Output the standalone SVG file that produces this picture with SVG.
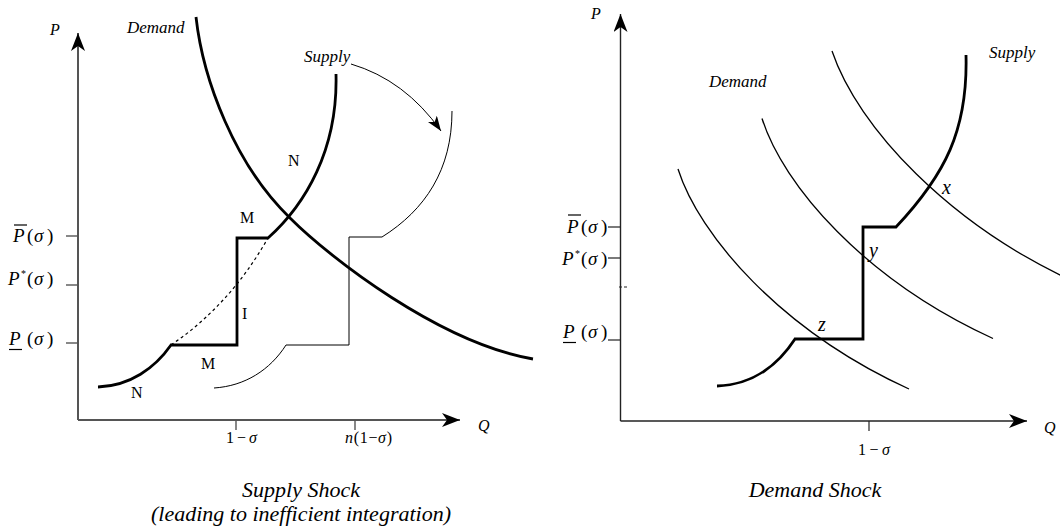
<svg xmlns="http://www.w3.org/2000/svg" width="1060" height="531" viewBox="0 0 1060 531">
<style>
.t{font-family:"Liberation Serif","DejaVu Serif",serif;fill:#000}
.i{font-style:italic}
.s16{font-size:16px}.s17{font-size:17px}.s19{font-size:19px}.s20{font-size:20px}.s22{font-size:22px}
.thick{fill:none;stroke:#000;stroke-width:2.8;stroke-linejoin:miter}
.thin{fill:none;stroke:#000;stroke-width:1.3}
.hair{fill:none;stroke:#000;stroke-width:1}
.dash{fill:none;stroke:#000;stroke-width:1.2;stroke-dasharray:3 3}
.axL{fill:none;stroke:#555;stroke-width:2}
.axR{fill:none;stroke:#222;stroke-width:1.4}
.tkL{stroke:#555;stroke-width:1.4}
.tkR{stroke:#222;stroke-width:1.2}
</style>
<defs>
<marker id="ah" viewBox="0 0 18 14" refX="18" refY="7" markerWidth="18" markerHeight="14" markerUnits="userSpaceOnUse" orient="auto">
<path d="M0,0 L18,7 L0,14 L5,7 Z" fill="#000"/>
</marker>
<marker id="ah2" viewBox="0 0 15 11" refX="15" refY="5.5" markerWidth="15" markerHeight="11" markerUnits="userSpaceOnUse" orient="auto">
<path d="M0,0 L15,5.5 L0,11 L4,5.5 Z" fill="#000"/>
</marker>
</defs>

<!-- LEFT PANEL: Supply Shock -->
<g id="left-axes">
<line class="axL" x1="78" y1="420" x2="78" y2="33" marker-end="url(#ah)"/>
<line class="axL" x1="78" y1="420" x2="460" y2="420" marker-end="url(#ah)"/>
<line class="tkL" x1="66" y1="236" x2="78" y2="236"/>
<line class="tkL" x1="66" y1="285" x2="78" y2="285"/>
<line class="tkL" x1="66" y1="343" x2="78" y2="343"/>
<line class="tkL" x1="236" y1="420" x2="236" y2="430"/>
<line class="tkL" x1="355" y1="420" x2="355" y2="430"/>
</g>
<g id="left-curves">
<path id="left-demand" class="thick" d="M196,17 C203,80 235,165 290,218 C330,258 440,343 533,359"/>
<path id="left-supply" class="thick" d="M336,74 C338,150 305,205 268,238 L237,238 L237,345 L171,345 C155,368 130,386 98,387"/>
<path id="left-dashed" class="dash" d="M171,345 Q230,305 268,238"/>
<path id="left-supply-shifted" class="hair" d="M452,111 C452,170 425,210 382,237 L349,237 L349,345 L286,345 C270,370 245,386 214,388"/>
<path id="shift-arrow" class="hair" d="M351,64 Q405,80 441,131" marker-end="url(#ah2)"/>
</g>
<g id="left-labels" class="t">
<text class="i s16" x="50" y="35">P</text>
<text class="i s17" x="127" y="33">Demand</text>
<text class="i s17" x="304" y="62">Supply</text>
<text class="s16" x="288" y="166">N</text>
<text class="s16" x="240" y="223">M</text>
<text class="s16" x="242" y="319">I</text>
<text class="s16" x="201" y="369">M</text>
<text class="s16" x="131" y="398">N</text>
<text class="i s16" x="478" y="431">Q</text>
<text class="s16" x="226" y="443" textLength="31" lengthAdjust="spacing">1−<tspan class="i">σ</tspan></text>
<text class="s16" x="345" y="443" textLength="47" lengthAdjust="spacing"><tspan class="i">n</tspan>(1−<tspan class="i">σ</tspan>)</text>
<text class="s19" y="242"><tspan class="i" x="13">P</tspan><tspan x="27">(</tspan><tspan class="i" x="34">σ</tspan><tspan x="47">)</tspan></text>
<line x1="14" y1="225" x2="27" y2="225" stroke="#000" stroke-width="1.2"/>
<text class="s19" y="285"><tspan class="i" x="8">P</tspan><tspan x="21" dy="-8" font-size="10">*</tspan><tspan x="27" dy="8">(</tspan><tspan class="i" x="34">σ</tspan><tspan x="47">)</tspan></text>
<text class="s19" y="345"><tspan class="i" x="9">P</tspan><tspan x="27">(</tspan><tspan class="i" x="34">σ</tspan><tspan x="47">)</tspan></text>
<line x1="9" y1="349.5" x2="22" y2="349.5" stroke="#000" stroke-width="1.2"/>
<text class="i s22" x="301" y="497" text-anchor="middle">Supply Shock</text>
<text class="i s22" x="301" y="521" text-anchor="middle">(leading to inefficient integration)</text>
</g>

<!-- RIGHT PANEL: Demand Shock -->
<g id="right-axes">
<line class="axR" x1="620.5" y1="421" x2="620.5" y2="14" marker-end="url(#ah)"/>
<line class="axR" x1="620.5" y1="421" x2="1027" y2="421" marker-end="url(#ah)"/>
<line class="tkR" x1="608" y1="227" x2="620.5" y2="227"/>
<line class="tkR" x1="608" y1="258" x2="620.5" y2="258"/>
<line class="tkR" x1="608" y1="340" x2="620.5" y2="340"/>
<line class="tkR" x1="619" y1="287" x2="629" y2="287" stroke-dasharray="3 2"/>
<line class="tkR" x1="869" y1="421" x2="869" y2="431"/>
</g>
<g id="right-curves">
<path id="demand-outer" class="thin" d="M832,51 C858,128 950,225 1075,282"/>
<path id="demand-middle" class="thin" d="M762,118.5 C783,185 864,279.5 993,338.5"/>
<path id="demand-inner" class="thin" d="M678,169 C699,235 780,330 909,389"/>
<path id="right-supply" class="thick" d="M966,55 C968,130 945,175 896,227 L863,227 L863,339 L795,339 C780,362 755,385 717,386"/>
</g>
<g id="right-labels" class="t">
<text class="i s16" x="591" y="19">P</text>
<text class="i s17" x="709" y="87">Demand</text>
<text class="i s17" x="989" y="58">Supply</text>
<text class="i s20" x="942" y="194">x</text>
<text class="i s20" x="869" y="257">y</text>
<text class="i s20" x="818" y="331">z</text>
<text class="s16" x="858" y="455" textLength="32" lengthAdjust="spacing">1−<tspan class="i">σ</tspan></text>
<text class="i s16" x="1044" y="433">Q</text>
<text class="s19" y="233"><tspan class="i" x="567">P</tspan><tspan x="581">(</tspan><tspan class="i" x="588">σ</tspan><tspan x="601">)</tspan></text>
<line x1="568" y1="215" x2="581" y2="215" stroke="#000" stroke-width="1.2"/>
<text class="s19" y="265"><tspan class="i" x="562">P</tspan><tspan x="575" dy="-8" font-size="10">*</tspan><tspan x="581" dy="8">(</tspan><tspan class="i" x="588">σ</tspan><tspan x="601">)</tspan></text>
<text class="s19" y="338"><tspan class="i" x="563">P</tspan><tspan x="581">(</tspan><tspan class="i" x="588">σ</tspan><tspan x="601">)</tspan></text>
<line x1="563" y1="342.5" x2="576" y2="342.5" stroke="#000" stroke-width="1.2"/>
<text class="i s22" x="815" y="497" text-anchor="middle">Demand Shock</text>
</g>
</svg>
